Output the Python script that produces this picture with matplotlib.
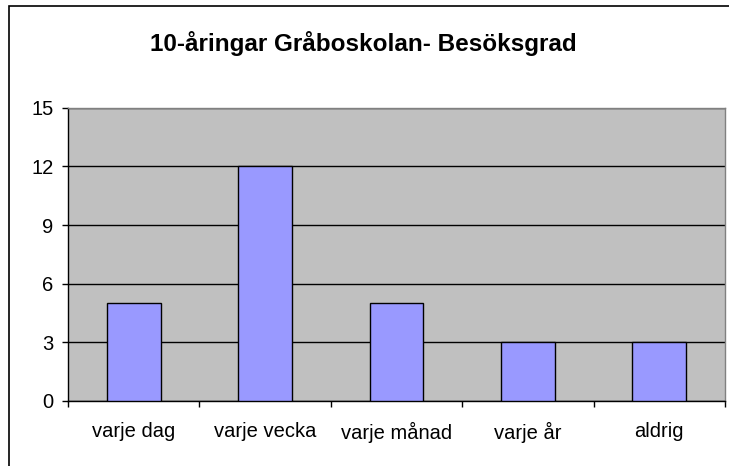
import matplotlib
matplotlib.use("Agg")
import matplotlib.pyplot as plt
from matplotlib.patches import Rectangle

categories = ["varje dag", "varje vecka", "varje månad", "varje år", "aldrig"]
values = [5, 12, 5, 3, 3]
yticks = [0, 3, 6, 9, 12, 15]
title = "10-åringar Gråboskolan- Besöksgrad"

plt.rcParams['font.family'] = ['Liberation Sans', 'DejaVu Sans']

W, H = 729, 466
fig = plt.figure(figsize=(W/100, H/100), dpi=100)
fig.patch.set_facecolor("white")

# outer chart frame (cropped at right/bottom)
fig.patches.append(Rectangle((9/W, -0.05), 1.1, 1 - 6/H + 0.05, transform=fig.transFigure,
                             fill=False, edgecolor="black", linewidth=1.2))

left, right, top, bottom = 68, 725, 107.7, 401
ax = fig.add_axes([left/W, 1 - bottom/H, (right-left)/W, (bottom-top)/H])
ax.set_facecolor("#C0C0C0")

x = list(range(len(categories)))
ax.bar(x, values, width=0.41, color="#9999FF", edgecolor="black", linewidth=1, zorder=3)

ax.set_xlim(-0.5, len(categories) - 0.5)
ax.set_ylim(0, 15)
ax.set_yticks(yticks)
ax.set_yticklabels([str(v) for v in yticks], fontsize=14.5)
ax.yaxis.grid(True, color="black", linewidth=1, zorder=1)
ax.set_axisbelow(True)

ax.set_xticks([i + 0.5 for i in range(-1, len(categories))], minor=False)
ax.set_xticklabels([])
ax.set_xticks(x, minor=True)
ax.set_xticklabels(categories, minor=True, fontsize=14.5)
ax.tick_params(axis="x", which="minor", length=0, pad=15)
ax.tick_params(axis="x", which="major", length=4.3, width=1, direction="out")
ax.tick_params(axis="y", length=4.3, width=1, direction="out", pad=6)

for s in ["top", "right"]:
    ax.spines[s].set_color("#808080")
    ax.spines[s].set_linewidth(1)
for s in ["left", "bottom"]:
    ax.spines[s].set_color("black")
    ax.spines[s].set_linewidth(1)

fig.text(0.5 * (148 + 579) / W, 1 - 44/H, title, ha="center", va="center",
         fontsize=17.5, fontweight="bold")

fig.savefig("out.png", dpi=100)
